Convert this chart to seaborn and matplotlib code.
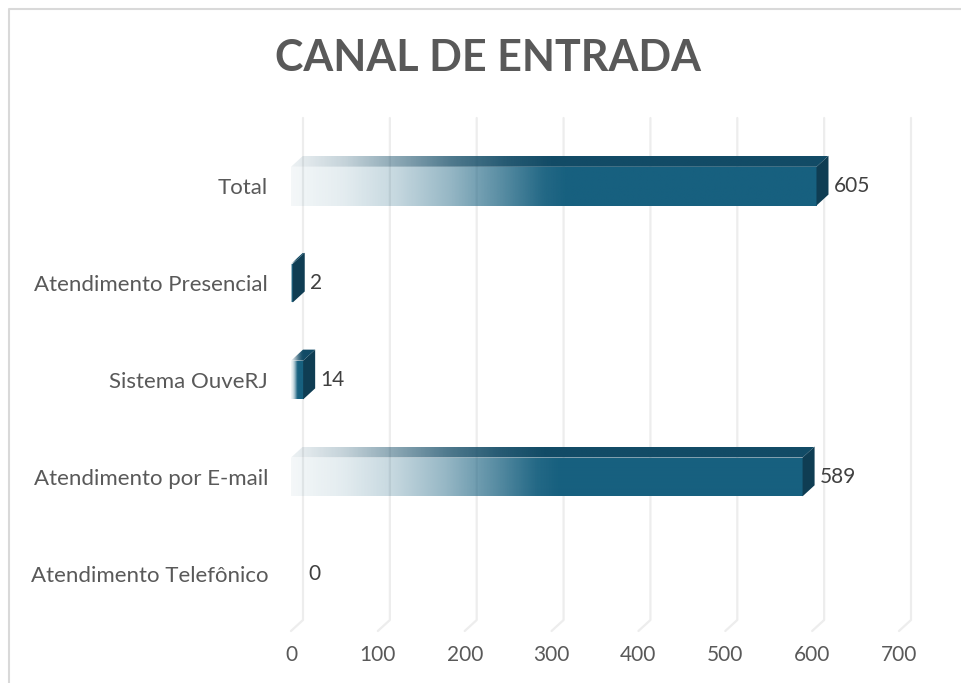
import numpy as np
import matplotlib
matplotlib.use('Agg')
import matplotlib.pyplot as plt
import matplotlib.transforms as mtransforms
from matplotlib.patches import Polygon
from matplotlib.lines import Line2D
from matplotlib.colors import LinearSegmentedColormap, to_rgb
import seaborn as sns

# data
categories = ['Total', 'Atendimento Presencial', 'Sistema OuveRJ',
              'Atendimento por E-mail', 'Atendimento Telefônico']
values = [605, 2, 14, 589, 0]
x_ticks = [0, 100, 200, 300, 400, 500, 600, 700]

sns.set_theme(style='white')
plt.rcParams['font.family'] = ['Lato', 'DejaVu Sans']

W, H = 961, 683
DX, DY = 12, 11  # 3d depth in pixels (back plane is right and up)
front_col = '#17607F'
top_col = '#124B66'
side_col = '#0F3D53'

fig = plt.figure(figsize=(W / 100, H / 100), dpi=100)
ax = fig.add_axes([291 / W, 1 - 631 / H, 608 / W, 502 / H])

sns.barplot(x=values, y=categories, orient='h', width=0.4, color=front_col,
            ax=ax, zorder=3)
ax.set_xlim(0, 700)
ax.set_ylim(4.59, -0.59)
bars = list(ax.patches)

to_disp = ax.transData.transform
inv = ax.transData.inverted()
ident = mtransforms.IdentityTransform()

# gridlines drawn on the back wall, slanting to the floor front
for v in x_ticks:
    fx, fyb = to_disp((v, 4.59))
    _, fyt = to_disp((v, -0.59))
    ax.add_line(Line2D([fx, fx + DX, fx + DX], [fyb, fyb + DY, fyt + DY],
                       transform=ident, color='#EDEDED', lw=1.6,
                       zorder=1, clip_on=False))


def ramp(col, stops):
    r, g, b = to_rgb(col)
    return LinearSegmentedColormap.from_list(
        'g', [(s, (r, g, b, a)) for s, a in stops])


front_stops = [(0, 0.05), (0.1, 0.12), (0.2, 0.25), (0.3, 0.45),
               (0.4, 0.72), (0.48, 0.95), (0.52, 1.0), (1, 1.0)]
top_stops = [(0, 0.08), (0.1, 0.25), (0.2, 0.5), (0.3, 0.75),
             (0.4, 0.92), (0.48, 1.0), (1, 1.0)]
grad = np.linspace(0, 1, 256).reshape(1, -1)

for p, v in zip(bars, values):
    p.set_facecolor('none')
    p.set_edgecolor('none')
    if v == 0:
        continue
    x0, w, y, h = p.get_x(), p.get_width(), p.get_y(), p.get_height()
    xl, yb = to_disp((x0, y + h))
    xr, yt = to_disp((x0 + w, y))

    # front face with fading gradient
    im = ax.imshow(grad, extent=[x0, x0 + w, y + h, y], aspect='auto',
                   cmap=ramp(front_col, front_stops), zorder=3,
                   interpolation='bilinear')
    im.set_clip_path(p)

    # top face
    top = Polygon([(xl, yt), (xr, yt), (xr + DX, yt + DY), (xl + DX, yt + DY)],
                  closed=True, transform=ident, facecolor='none',
                  edgecolor='none', clip_on=False)
    ax.add_patch(top)
    a0 = inv.transform((xl, yt))
    a1 = inv.transform((xr + DX, yt + DY))
    im2 = ax.imshow(grad, extent=[a0[0], a1[0], a0[1], a1[1]], aspect='auto',
                    cmap=ramp(top_col, top_stops), zorder=3,
                    interpolation='bilinear')
    im2.set_clip_path(top)

    # right side face
    ax.add_patch(Polygon([(xr, yb), (xr + DX, yb + DY), (xr + DX, yt + DY), (xr, yt)],
                         closed=True, transform=ident, facecolor=side_col,
                         edgecolor='none', zorder=4, clip_on=False))

for p, v in zip(bars, values):
    ax.annotate(str(v), xy=(p.get_x() + p.get_width(), p.get_y() + p.get_height() / 2),
                xytext=(17, 0), textcoords='offset pixels', ha='left', va='center',
                fontsize=15, color='#404040', zorder=5)

ax.set_xlim(0, 700)
ax.set_ylim(4.59, -0.59)
ax.set_xticks(x_ticks)
ax.set_xlabel('')
ax.set_ylabel('')
ax.tick_params(axis='x', length=0, pad=10, labelsize=15, labelcolor='#595959')
ax.tick_params(axis='y', length=0, pad=16.5, labelsize=16, labelcolor='#595959')
ax.grid(False)
for s in ax.spines.values():
    s.set_visible(False)
ax.patch.set_alpha(0)

fig.text(488 / W, 1 - 58 / H, 'CANAL DE ENTRADA', ha='center', va='center',
         fontsize=31, fontweight='bold', color='#595959')

# chart area border (left and top edges visible)
fig.add_artist(Line2D([8.5 / W, 8.5 / W, 1], [0, 1 - 8.5 / H, 1 - 8.5 / H],
                      transform=fig.transFigure, color='#D9D9D9', lw=1.5))

fig.savefig('out.png', dpi=100)
